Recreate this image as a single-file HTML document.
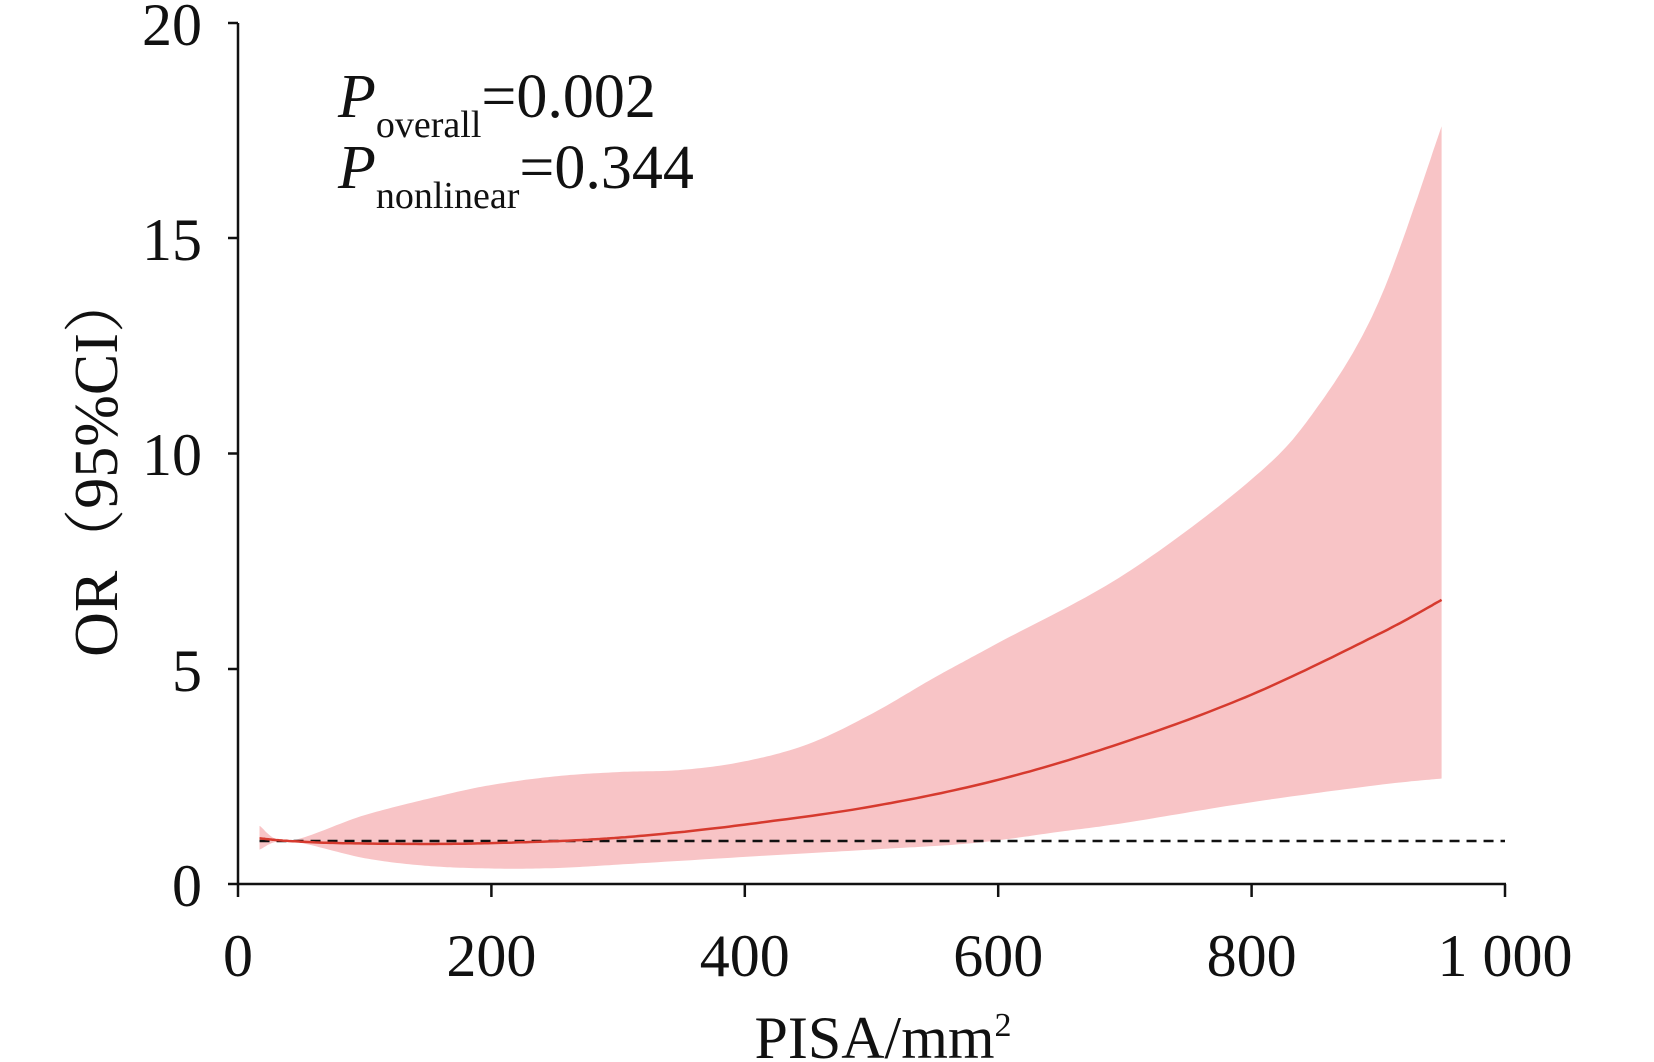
<!DOCTYPE html>
<html><head><meta charset="utf-8"><style>
html,body{margin:0;padding:0;background:#fff;}
svg{display:block;}
text{font-family:"Liberation Serif","Noto Serif CJK SC",serif;fill:#111;}
</style></head><body>
<svg id="s" width="1654" height="1062" viewBox="0 0 1654 1062" xmlns="http://www.w3.org/2000/svg">
<path id="band" fill="#f8c4c6" stroke="none"/>
<path id="dash" stroke="#111" stroke-width="2.5" stroke-dasharray="10,7" fill="none"/>
<path id="curve" stroke="#d63a2e" stroke-width="2.5" fill="none"/>
<g stroke="#111" stroke-width="2.5" fill="none">
<line x1="238" y1="23" x2="238" y2="885"/>
<line x1="237" y1="884" x2="1506" y2="884"/>
<line x1="228" y1="23" x2="238" y2="23"/>
<line x1="228" y1="238" x2="238" y2="238"/>
<line x1="228" y1="453.5" x2="238" y2="453.5"/>
<line x1="228" y1="669" x2="238" y2="669"/>
<line x1="228" y1="884" x2="238" y2="884"/>
<line x1="238" y1="884" x2="238" y2="897"/>
<line x1="491.4" y1="884" x2="491.4" y2="897"/>
<line x1="744.8" y1="884" x2="744.8" y2="897"/>
<line x1="998.2" y1="884" x2="998.2" y2="897"/>
<line x1="1251.6" y1="884" x2="1251.6" y2="897"/>
<line x1="1505" y1="884" x2="1505" y2="897"/>
</g>
<g font-size="60" text-anchor="end">
<text x="202" y="45">20</text>
<text x="202" y="260">15</text>
<text x="202" y="475">10</text>
<text x="202" y="691">5</text>
<text x="202" y="906">0</text>
</g>
<g font-size="60" text-anchor="middle">
<text x="238" y="976">0</text>
<text x="491.4" y="976">200</text>
<text x="744.8" y="976">400</text>
<text x="998.2" y="976">600</text>
<text x="1251.6" y="976">800</text>
<text x="1505" y="976">1 000</text>
<text x="883" y="1058">PISA/mm<tspan font-size="34" dy="-22">2</tspan></text>
</g>
<text font-size="62" text-anchor="middle" transform="translate(117,464) rotate(-90)">OR（95%CI）</text>
<text font-size="62" x="338" y="117"><tspan font-style="italic">P</tspan><tspan font-size="38" dy="20">overall</tspan><tspan dy="-20">=0.002</tspan></text>
<text font-size="62" x="338" y="188"><tspan font-style="italic">P</tspan><tspan font-size="38" dy="20">nonlinear</tspan><tspan dy="-20">=0.344</tspan></text>
</svg>
<script>
function X(v){return 238+v*1.267;}
function Y(o){return 884-o*43.05;}
function cr(pts){
  var out=[];
  for(var i=0;i<pts.length-1;i++){
    var p0=pts[Math.max(0,i-1)],p1=pts[i],p2=pts[i+1],p3=pts[Math.min(pts.length-1,i+2)];
    for(var t=0;t<1;t+=0.05){
      var t2=t*t,t3=t2*t;
      function f(a,b,c,d){return 0.5*((2*b)+(-a+c)*t+(2*a-5*b+4*c-d)*t2+(-a+3*b-3*c+d)*t3);}
      out.push([f(p0[0],p1[0],p2[0],p3[0]),f(p0[1],p1[1],p2[1],p3[1])]);
    }
  }
  out.push(pts[pts.length-1]);return out;
}
function toPx(a){return a.map(function(p){return [X(p[0]),Y(p[1])];});}
var curve=[[17,1.06],[40,1.0],[80,0.95],[150,0.93],[200,0.95],[270,1.02],[330,1.15],[400,1.38],[500,1.8],[600,2.42],[700,3.3],[800,4.4],[900,5.8],[950,6.6]];
var up=[[17,1.35],[40,1.0],[100,1.6],[160,2.05],[200,2.3],[250,2.5],[300,2.6],[350,2.65],[400,2.85],[450,3.25],[500,3.95],[550,4.8],[600,5.6],[700,7.2],[800,9.4],[850,11.0],[900,13.5],[950,17.6]];
var lo=[[17,0.8],[40,1.0],[100,0.6],[150,0.42],[200,0.36],[250,0.37],[300,0.45],[400,0.63],[500,0.8],[580,0.95],[650,1.22],[700,1.42],[800,1.9],[900,2.3],[950,2.45]];
function d(a){return a.map(function(p,i){return (i?'L':'M')+p[0].toFixed(1)+','+p[1].toFixed(1);}).join('');}
var U=cr(toPx(up)),Lw=cr(toPx(lo)).reverse();
document.getElementById('band').setAttribute('d',d(U.concat(Lw))+'Z');
document.getElementById('curve').setAttribute('d',d(cr(toPx(curve))));
document.getElementById('dash').setAttribute('d','M'+X(17)+','+Y(1)+'L'+X(1000)+','+Y(1));
</script>
</body></html>
